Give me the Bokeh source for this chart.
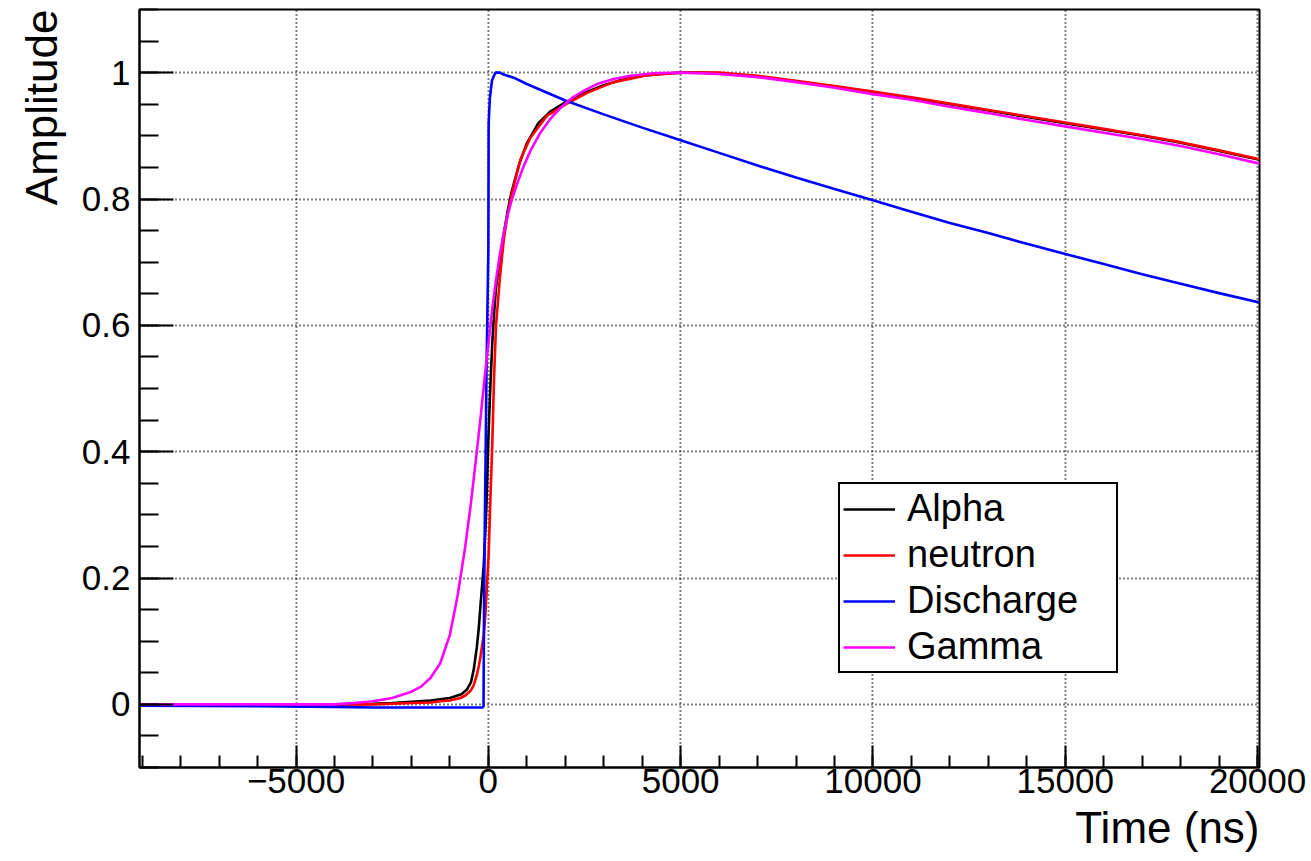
from bokeh.plotting import figure
from bokeh.models import FixedTicker, Legend, LegendItem, Range1d, Title
from bokeh.embed import file_html
from bokeh.resources import INLINE

# ---------------- data ----------------
x_major = [-5000, 0, 5000, 10000, 15000, 20000]
x_minor = list(range(-9000, 20001, 1000))
y_major = [0, 0.2, 0.4, 0.6, 0.8, 1.0]
y_minor = [round(-0.1 + 0.05 * i, 2) for i in range(25)]
y_labels = {0: "0", 0.2: "0.2", 0.4: "0.4", 0.6: "0.6", 0.8: "0.8", 1.0: "1"}
x_labels = {-5000: "\u22125000", 0: "0", 5000: "5000", 10000: "10000",
            15000: "15000", 20000: "20000"}

alpha_t = [-9070, -6000, -4000, -3000, -2500, -2000, -1500, -1250, -1000, -900, -700,
           -550, -450, -380, -300, -250, -200, -160, -120, -80, -40, 0, 50, 100, 150,
           200, 300, 400, 500, 600, 800, 1000, 1300, 1600, 2000, 2500, 3000, 3500, 4000,
           4500, 5000, 5500, 6000, 7000, 8000, 9000, 10000, 11000, 12000, 13000, 14000,
           15000, 16000, 17000, 18000, 19000, 20050]
alpha_v = [0.0, 0.0, 0.0, 0.001, 0.002, 0.004, 0.006, 0.008, 0.010, 0.012, 0.016,
           0.024, 0.035, 0.055, 0.09, 0.12, 0.16, 0.19, 0.22, 0.27, 0.33, 0.42, 0.50, 0.57, 0.62,
           0.66, 0.705, 0.745, 0.78, 0.81, 0.855, 0.888, 0.92, 0.938, 0.953, 0.968, 0.98, 0.989, 0.995,
           0.998, 1.0, 1.0, 0.999, 0.994, 0.986, 0.978, 0.969, 0.959, 0.950, 0.940, 0.930,
           0.920, 0.910, 0.900, 0.889, 0.876, 0.862]

neutron_t = [-9070, -4000, -3000, -2000, -1500, -1250, -1000, -728, -600, -468, -380,
             -294, -250, -208, -165, -120, -80, -34, 8, 50, 96, 150, 200, 300, 400, 500,
             616, 832, 1092, 1526, 2046, 2566, 3258, 4126, 5000, 6000, 7000, 8000, 9000,
             10000, 11000, 12000, 13000, 14000, 15000, 16000, 17000, 18000, 19000, 20050]
neutron_v = [0.0, 0.0, 0.0, 0.002, 0.003, 0.005, 0.006, 0.010, 0.014, 0.021, 0.03,
             0.048, 0.06, 0.074, 0.092, 0.11, 0.14, 0.19, 0.238, 0.32, 0.40, 0.52, 0.60, 0.675, 0.735, 0.775,
             0.81, 0.862, 0.897, 0.932, 0.951, 0.968, 0.985, 0.996, 1.0, 1.0, 0.995, 0.987, 0.979,
             0.970, 0.961, 0.951, 0.941, 0.931, 0.921, 0.911, 0.901, 0.890, 0.877, 0.863]

discharge_t = [-9070, -6000, -4000, -3000, -2000, -1000, -500, -150, -125, -115, -90, -70,
               -50, -25, 0, 8, 40, 96, 182, 300, 400, 700, 1000, 1500, 2000, 3000, 4000, 5000,
               6000, 7000, 8000, 9000, 10000, 11000, 12000, 13000, 14000, 15000, 16000,
               17000, 18000, 19000, 20050]
discharge_v = [-0.002, -0.003, -0.004, -0.005, -0.005, -0.005, -0.005, -0.005, -0.003, 0.12, 0.30, 0.40,
               0.52, 0.62, 0.72, 0.92, 0.96, 0.988, 1.0, 1.0, 0.997, 0.991, 0.982, 0.969, 0.956, 0.934, 0.913, 0.893,
               0.873, 0.853, 0.834, 0.816, 0.798, 0.780, 0.762, 0.746, 0.729, 0.713, 0.697,
               0.681, 0.666, 0.651, 0.636]

gamma_t = [-9070, -6000, -4000, -3500, -3000, -2500, -2000, -1750, -1500, -1250, -1000,
           -800, -600, -450, -300, -200, -100, 0, 100, 200, 300, 400, 500, 616, 760, 918,
           1100, 1352, 1600, 1872, 2200, 2500, 2826, 3258, 3692, 4300, 5000, 6000, 7000,
           8000, 9000, 10000, 11000, 12000, 13000, 14000, 15000, 16000, 17000, 18000,
           19000, 20050]
gamma_v = [0.0, 0.0, 0.0, 0.002, 0.005, 0.010, 0.020, 0.028, 0.042, 0.065, 0.11,
           0.172, 0.25, 0.32, 0.40, 0.455, 0.515, 0.57, 0.625, 0.672, 0.712, 0.746, 0.774, 0.80, 0.826, 0.852,
           0.877, 0.905, 0.926, 0.944, 0.961, 0.972, 0.982, 0.990, 0.995, 0.999, 1.0, 0.998, 0.993,
           0.985, 0.976, 0.966, 0.957, 0.946, 0.936, 0.925, 0.915, 0.905, 0.895, 0.884,
           0.871, 0.856]

series_names = ["Alpha", "neutron", "Discharge", "Gamma"]
series_colors = ["#000000", "#ff0000", "#0000ff", "#ff00ff"]
x_title = "Time (ns)"
y_title = "Amplitude"

FONT = "Liberation Sans"

# ---------------- figure ----------------
p = figure(width=1311, height=861,
           x_range=Range1d(-9070, 20050), y_range=Range1d(-0.1, 1.1),
           output_backend="svg", toolbar_location=None,
           min_border_left=139, min_border_right=52,
           min_border_top=9, min_border_bottom=94)
p.background_fill_color = "white"
p.border_fill_color = "white"
p.outline_line_color = "black"
p.outline_line_width = 2

# axes
p.xaxis.ticker = FixedTicker(ticks=x_major, minor_ticks=x_minor)
p.yaxis.ticker = FixedTicker(ticks=y_major, minor_ticks=y_minor)
p.xaxis.major_label_overrides = x_labels
p.yaxis.major_label_overrides = y_labels
for ax in (p.xaxis[0], p.yaxis[0]):
    ax.axis_line_color = "black"
    ax.axis_line_width = 2
    ax.major_tick_line_color = "black"
    ax.major_tick_line_width = 2
    ax.minor_tick_line_color = "black"
    ax.minor_tick_line_width = 2
    ax.major_tick_out = 0
    ax.minor_tick_out = 0
    ax.major_label_text_font = FONT
    ax.major_label_text_font_size = "35px"
    ax.major_label_text_color = "black"
p.xaxis.major_tick_in = 22
p.xaxis.minor_tick_in = 12
p.yaxis.major_tick_in = 34
p.yaxis.minor_tick_in = 19
p.xaxis.major_label_standoff = 1
p.yaxis.major_label_standoff = 9

# grid
p.grid.grid_line_color = "black"
p.grid.grid_line_dash = "1 3"
p.grid.grid_line_width = 2

# curves (drawn in ROOT order)
renderers = []
for t, v, c in zip([alpha_t, neutron_t, discharge_t, gamma_t],
                   [alpha_v, neutron_v, discharge_v, gamma_v], series_colors):
    r = p.line(t, v, line_color=c, line_width=2.6)
    renderers.append(r)

# legend
legend = Legend(items=[LegendItem(label=n, renderers=[r]) for n, r in zip(series_names, renderers)],
                location=(699, 94), orientation="vertical",
                border_line_color="black", border_line_width=2, border_line_alpha=1.0,
                background_fill_color="white", background_fill_alpha=1.0,
                label_text_font=FONT, label_text_font_size="38px", label_text_color="black",
                glyph_width=52, glyph_height=40, label_height=40, label_width=206,
                label_standoff=12, padding=3, spacing=3, margin=0)
p.add_layout(legend)

# axis titles (ROOT style: aligned to the axis end)
xt = Title(text=x_title, align="right", vertical_align="top", text_font=FONT,
           text_font_size="44px", text_font_style="normal", text_color="black",
           standoff=14, offset=0)
p.add_layout(xt, "below")
yt = Title(text=y_title, align="right", text_font=FONT, text_font_size="44px",
           text_font_style="normal", text_color="black",
           standoff=26, offset=0)
p.add_layout(yt, "left")

open("out.html", "w").write(file_html(p, INLINE))
